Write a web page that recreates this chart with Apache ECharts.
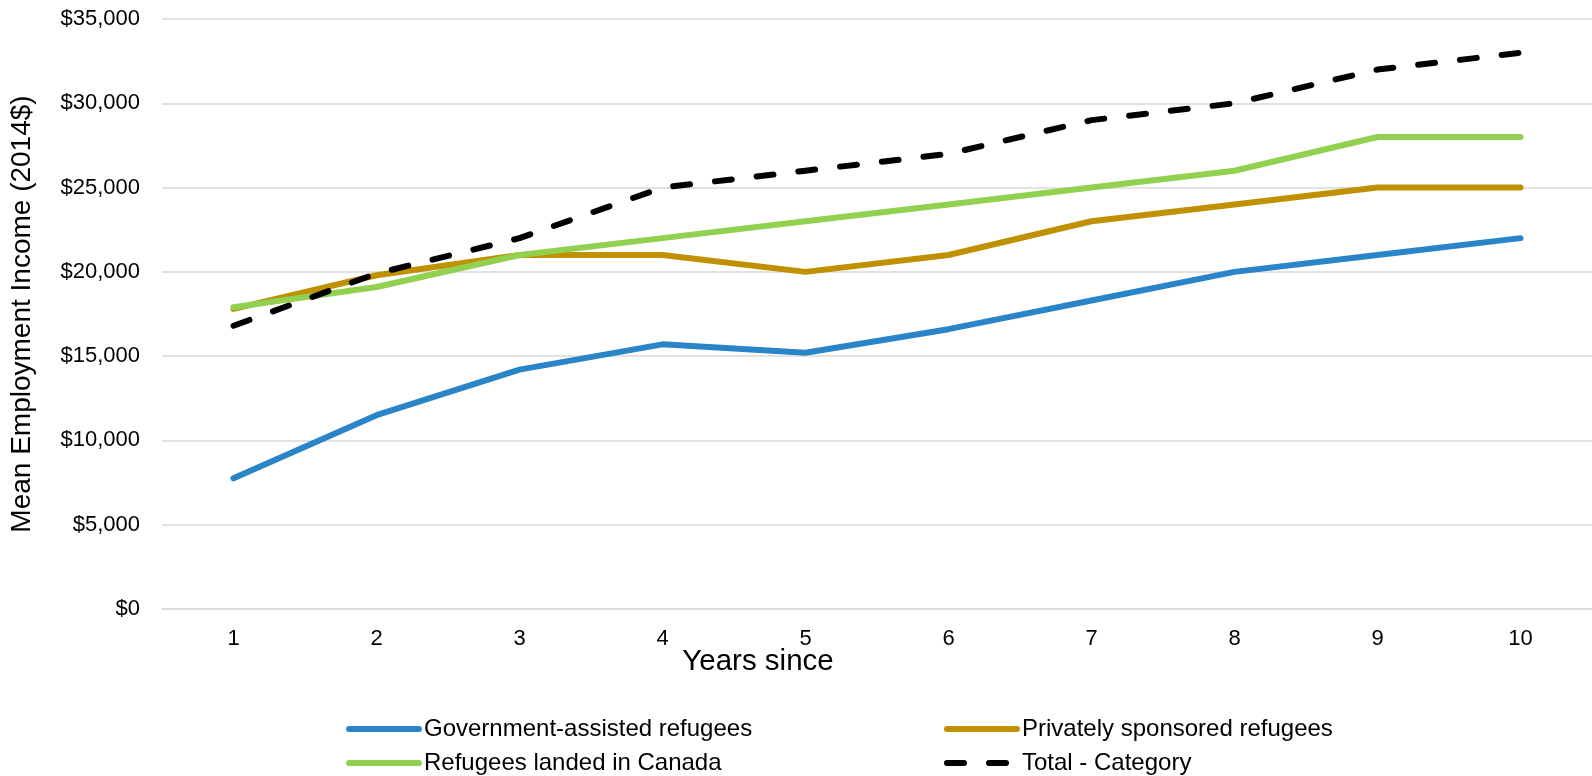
<!DOCTYPE html>
<html>
<head>
<meta charset="utf-8">
<script src="https://cdn.jsdelivr.net/npm/echarts@6/dist/echarts.min.js"></script>
<style>
  html, body { margin: 0; padding: 0; background: #fff; }
  #chart { width: 1592px; height: 776px; }
</style>
</head>
<body>
<div id="chart"></div>
<script>
// Mean employment income (2014$) by years since landing
const years = ['1', '2', '3', '4', '5', '6', '7', '8', '9', '10'];
const governmentAssisted = [7750, 11500, 14200, 15700, 15200, 16600, 18300, 20000, 21000, 22000];
const privatelySponsored = [17800, 19800, 21000, 21000, 20000, 21000, 23000, 24000, 25000, 25000];
const landedInCanada = [17900, 19100, 21000, 22000, 23000, 24000, 25000, 26000, 28000, 28000];
const totalCategory = [16800, 19900, 22000, 25000, 26000, 27000, 29000, 30000, 32000, 33000];

const seriesNames = [
  'Government-assisted refugees',
  'Privately sponsored refugees',
  'Refugees landed in Canada',
  'Total - Category'
];
const seriesColors = ['#2a84c8', '#bf9000', '#92d050', '#000000'];
const DASH = [17, 25];
const LINE_W = 6;

const FONT = '"Liberation Sans", Arial, sans-serif';

const chart = echarts.init(document.getElementById('chart'), null, { renderer: 'canvas' });

function lineSeries(name, data, color, dashed) {
  return {
    name: name,
    type: 'line',
    data: data,
    symbol: 'none',
    smooth: false,
    lineStyle: {
      color: color,
      width: LINE_W,
      type: dashed ? DASH : 'solid',
      cap: 'round',
      join: 'round'
    },
    itemStyle: { color: color }
  };
}

// One legend block per entry, laid out as two rows of two
function legendEntry(idx, left, top) {
  const dashed = idx === 3;
  return {
    left: left,
    top: top,
    padding: 0,
    itemWidth: 70,
    itemHeight: 24,
    selectedMode: false,
    data: [{
      name: seriesNames[idx],
      itemStyle: { opacity: 0, borderWidth: 0 },
      lineStyle: {
        color: seriesColors[idx],
        width: LINE_W,
        type: dashed ? DASH : 'solid',
        cap: 'round',
        opacity: 1
      }
    }],
    textStyle: { color: '#000', fontFamily: FONT, fontSize: 24, lineHeight: 24 }
  };
}

chart.setOption({
  animation: false,
  backgroundColor: '#ffffff',
  grid: { left: 161, right: -4, top: 19, bottom: 167, containLabel: false },
  xAxis: {
    type: 'category',
    data: years,
    boundaryGap: true,
    axisLine: { show: true, lineStyle: { color: '#d9d9d9', width: 1.5 } },
    axisTick: { show: false },
    axisLabel: { color: '#000', fontFamily: FONT, fontSize: 22, margin: 19 }
  },
  yAxis: {
    type: 'value',
    min: 0,
    max: 35000,
    interval: 5000,
    name: 'Mean Employment Income (2014$)',
    nameLocation: 'middle',
    nameGap: 126,
    nameTextStyle: { color: '#000', fontFamily: FONT, fontSize: 28 },
    axisLine: { show: false },
    axisTick: { show: false },
    splitLine: { lineStyle: { color: '#d9d9d9', width: 1.5 } },
    axisLabel: {
      color: '#000',
      fontFamily: FONT,
      fontSize: 22,
      margin: 22,
      formatter: function (v) { return '$' + v.toLocaleString('en-US'); }
    }
  },
  graphic: [{
    type: 'text',
    x: 758,
    y: 662,
    style: {
      text: 'Years since',
      fontFamily: FONT,
      fontSize: 29.5,
      fill: '#000',
      align: 'center',
      verticalAlign: 'middle'
    }
  }],
  legend: [
    legendEntry(0, 346, 717),
    legendEntry(1, 944, 717),
    legendEntry(2, 346, 751),
    legendEntry(3, 944, 751)
  ],
  series: [
    lineSeries(seriesNames[0], governmentAssisted, seriesColors[0], false),
    lineSeries(seriesNames[1], privatelySponsored, seriesColors[1], false),
    lineSeries(seriesNames[2], landedInCanada, seriesColors[2], false),
    lineSeries(seriesNames[3], totalCategory, seriesColors[3], true)
  ]
});
</script>
</body>
</html>
